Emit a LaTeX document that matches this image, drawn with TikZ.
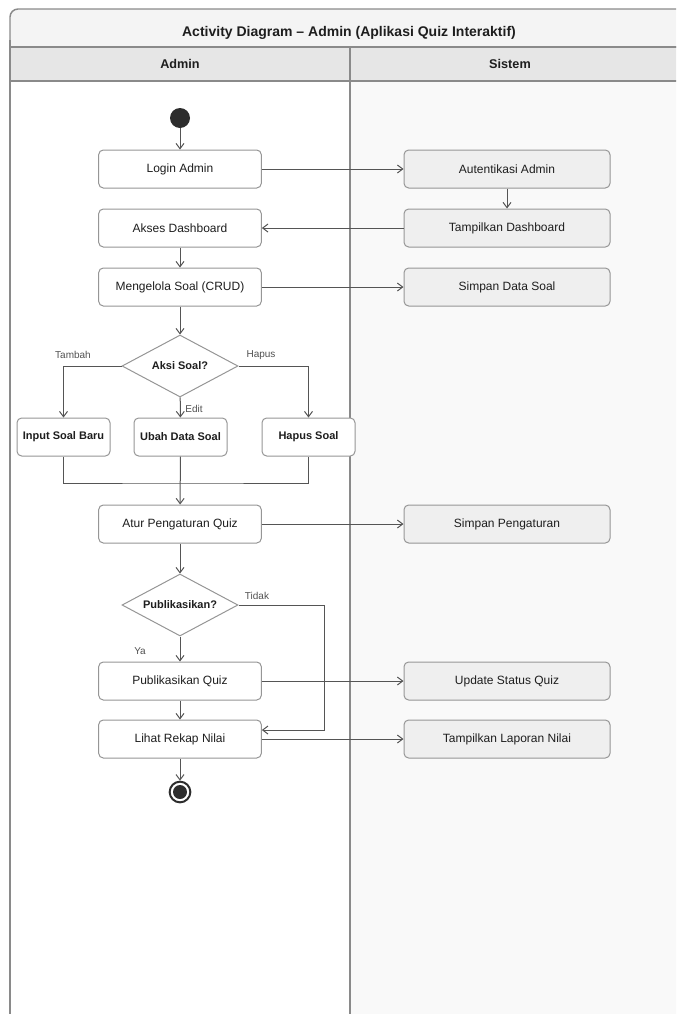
\documentclass[tikz,border=0pt]{standalone}
\usepackage{fontspec}
\setmainfont{Liberation Sans}
\usepackage{tikz}
\usetikzlibrary{arrows.meta}
\usetikzlibrary{shapes.geometric}
\usetikzlibrary{positioning}

\definecolor{framegray}{RGB}{138,138,138}
\definecolor{boxgray}{RGB}{150,150,150}
\definecolor{linegray}{RGB}{85,85,85}
\definecolor{inkgray}{RGB}{30,30,30}
\definecolor{labelgray}{RGB}{80,80,80}
\definecolor{titlefill}{RGB}{244,244,244}
\definecolor{headfill}{RGB}{230,230,230}
\definecolor{sysfill}{RGB}{249,249,249}
\definecolor{sysbox}{RGB}{239,239,239}
\definecolor{dotblack}{RGB}{45,45,45}

\begin{document}
\begin{tikzpicture}[x=0.75pt,y=0.75pt,yscale=-1,xscale=1,
  act/.style={draw=boxgray, fill=white, rounded corners=3.5pt, line width=0.75pt, minimum width=122pt, minimum height=28.5pt, inner sep=0pt, font=\fontsize{9}{11}\selectfont, text=inkgray},
  sysact/.style={act, fill=sysbox, minimum width=154.5pt},
  choice/.style={act, minimum width=69.75pt, font=\fontsize{8.25}{10}\selectfont\bfseries},
  decision/.style={diamond, aspect=1.87, draw=boxgray, fill=white, line width=0.75pt, minimum width=87pt, minimum height=46.5pt, inner sep=0pt, font=\fontsize{8.25}{10}\selectfont\bfseries, text=inkgray},
  flow/.style={draw=linegray, line width=0.75pt, -{Straight Barb[length=4pt,width=6pt]}},
  wire/.style={draw=linegray, line width=0.75pt},
  guard/.style={font=\fontsize{7.5}{9}\selectfont, text=labelgray},
  lanehead/.style={font=\fontsize{9.5}{11}\selectfont\bfseries, text=inkgray},
  frame/.style={draw=framegray, line width=1.1pt}
]
\clip (0,0) rectangle (676,1014);

%Swimlanes
\fill[sysfill] (350,81) rectangle (700,1030);
\path[frame, fill=titlefill] (10,47) [rounded corners=6] -- (10,9) -- (700,9) [sharp corners] -- (700,47) -- cycle;
\fill[headfill] (10,47) rectangle (700,81);
\draw[frame] (10,47) -- (700,47);
\draw[frame] (10,81) -- (700,81);
\draw[frame] (10,40) -- (10,1030);
\draw[frame] (350,47) -- (350,1030);

% Text Node
\node[font=\fontsize{10.5}{12}\selectfont\bfseries, text=inkgray] (title) at (349,33) {Activity Diagram – Admin (Aplikasi Quiz Interaktif)};
% Text Node
\node[lanehead] (admhead) at (180,64) {Admin};
% Text Node
\node[lanehead] (syshead) at (510,64) {Sistem};

%Admin lane
\node[circle, fill=dotblack, minimum size=15pt, inner sep=0pt] (start) at (180,118) {};
\node[act] (login) at (180,169) {Login Admin};
\node[act] (akses) at (180,228) {Akses Dashboard};
\node[act] (crud) at (180,287) {Mengelola Soal (CRUD)};
\node[decision] (aksi) at (180,366) {Aksi Soal?};
\node[choice] (input) at (63.5,437) {Input Soal Baru};
\node[choice] (ubah) at (180.5,437) {Ubah Data Soal};
\node[choice] (hapus) at (308.5,437) {Hapus Soal};
\coordinate (join) at (180,483);
\node[act] (atur) at (180,524) {Atur Pengaturan Quiz};
\node[decision] (publik) at (180,605) {Publikasikan?};
\node[act] (pubquiz) at (180,681) {Publikasikan Quiz};
\node[act] (rekap) at (180,739) {Lihat Rekap Nilai};
\coordinate (tbend) at (324,730);
\node[circle, draw=dotblack, line width=1.5pt, minimum size=15.5pt, inner sep=0pt] (end) at (180,792) {};
\fill[dotblack] (end) circle [radius=7];

%Sistem lane
\node[sysact] (auth) at (507,169) {Autentikasi Admin};
\node[sysact] (tdash) at (507,228) {Tampilkan Dashboard};
\node[sysact] (simsoal) at (507,287) {Simpan Data Soal};
\node[sysact] (simatur) at (507,524) {Simpan Pengaturan};
\node[sysact] (upstat) at (507,681) {Update Status Quiz};
\node[sysact] (laporan) at (507,739) {Tampilkan Laporan Nilai};

%Straight Lines
\draw[flow] (start) -- (login);
\draw[flow] (login) -- (auth);
\draw[flow] (auth) -- (tdash);
\draw[flow] (tdash) -- (akses);
\draw[flow] (akses) -- (crud);
\draw[flow] (crud) -- (simsoal);
\draw[flow] (crud) -- (aksi);
\draw[flow] (aksi.west) -| (input.north);
\draw[flow] (aksi) -- (ubah);
\draw[flow] (aksi.east) -| (hapus.north);
\draw[wire] (input.south) |- (join) -| (hapus.south);
\draw[flow] (ubah) -- (atur);
\draw[flow] (atur) -- (simatur);
\draw[flow] (atur) -- (publik);
\draw[flow] (publik) -- (pubquiz);
\draw[flow] (publik.east) -| (tbend) -- (rekap.east |- tbend);
\draw[flow] (pubquiz) -- (upstat);
\draw[flow] (pubquiz) -- (rekap);
\draw[flow] (rekap) -- (laporan);
\draw[flow] (rekap) -- (end);

% Text Node
\node[guard] (ltambah) at (73,355) {Tambah};
% Text Node
\node[guard] (lhapus) at (261,355) {Hapus};
% Text Node
\node[guard] (ledit) at (194,409) {Edit};
% Text Node
\node[guard] (ltidak) at (257,596) {Tidak};
% Text Node
\node[guard] (lya) at (140,651) {Ya};

\end{tikzpicture}
\end{document}
